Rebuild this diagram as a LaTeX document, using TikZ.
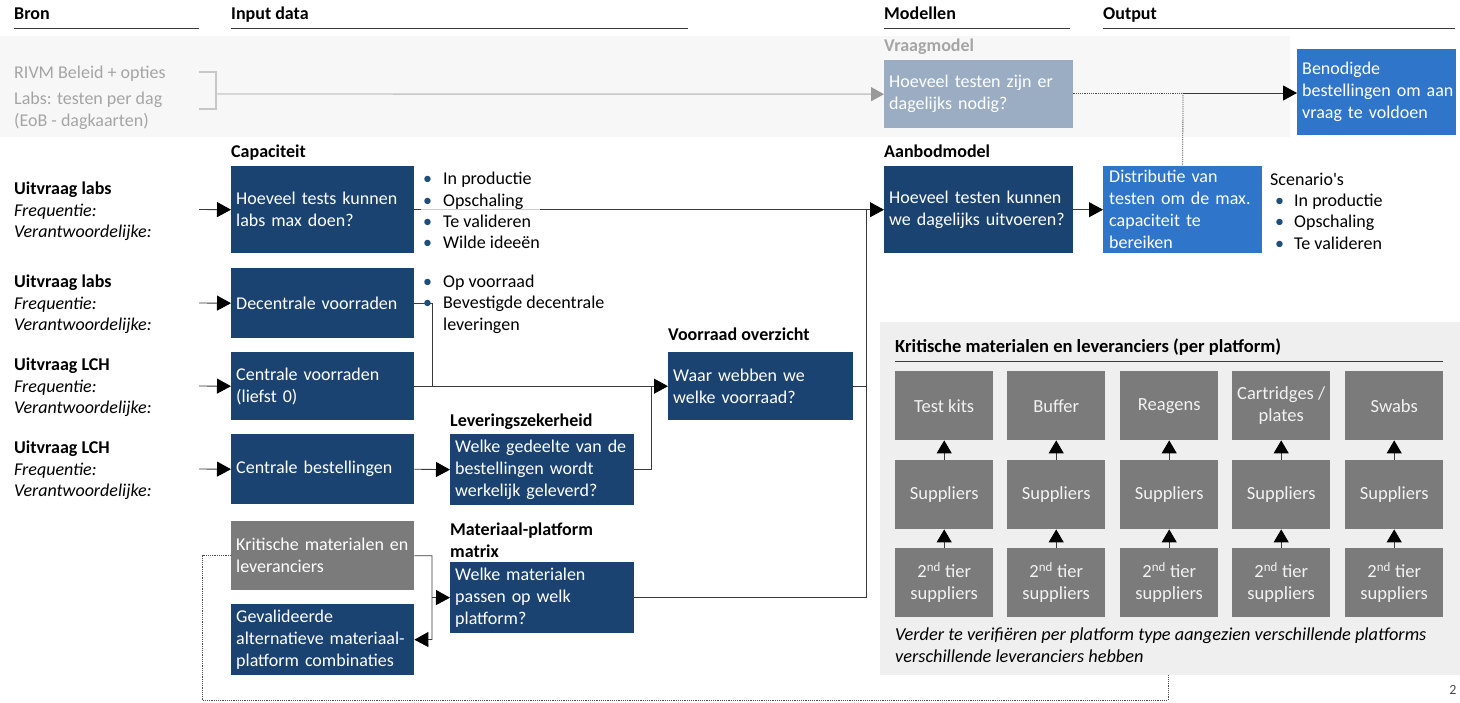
\documentclass[tikz,border=0pt]{standalone}
\usepackage{fontspec}
\setmainfont{Carlito}
\usetikzlibrary{arrows.meta}
\definecolor{navy}{HTML}{1A4372}
\definecolor{vraagc}{HTML}{9AADC3}
\definecolor{bluec}{HTML}{2F75C9}
\definecolor{grc}{HTML}{7B7B7B}
\definecolor{panelc}{HTML}{EFEFEF}
\definecolor{ltxt}{HTML}{A5A5A5}
\definecolor{bulc}{HTML}{1F4E79}
\definecolor{lnc}{HTML}{3A3A3A}
\definecolor{bandc}{HTML}{F7F7F7}
\definecolor{gtx}{HTML}{F2F2F2}
\newcommand\bxf{\fontsize{18}{22}\selectfont}
\newcommand\lblf{\fontsize{18}{21.3}\selectfont}
\newcommand\gfnt{\fontsize{18.5}{22}\selectfont}
\newcommand\mybul{\makebox[22pt][l]{\hspace*{2pt}\textcolor{bulc}{\textbullet}}}
\newcommand\sbul{\hspace*{5pt}\makebox[19pt][l]{\textcolor{bulc}{\textbullet}}}
\begin{document}
\begin{tikzpicture}[x=1pt,y=-1pt,
  bx/.style={rectangle, anchor=north west, inner xsep=5pt, inner ysep=0pt, align=left, text=white, font=\bxf},
  nv/.style={bx, fill=navy},
  lbl/.style={anchor=west, inner sep=0pt, align=left, font=\lblf},
  hdr/.style={anchor=base west, inner sep=0pt, font=\bxf\bfseries},
  hline/.style={draw=lnc, line width=1pt},
  ln/.style={draw=lnc, line width=0.9pt},
  arr/.style={ln, -{Triangle[length=14pt,width=15pt,color=black]}},
  garr/.style={draw=black!22, line width=1.4pt, -{Triangle[length=13pt,width=14pt,color=black!40]}},
  dotl/.style={draw=black!70, line width=0.8pt, dash pattern=on 1.2pt off 1pt},
  gbx/.style={rectangle, anchor=north west, fill=grc, text=gtx, minimum width=98pt, minimum height=69pt, inner sep=2pt, align=center, font=\gfnt},
  uarr/.style={ln, -{Triangle[length=13pt,width=15pt,color=black]}}
]
\useasboundingbox (0,0) rectangle (1460,703);
\fill[white] (0,0) rectangle (1460,703);
\fill[bandc] (0,36) rectangle (1290,137);

% headers
\node[hdr] (hbron) at (14,20) {Bron};
\node[hdr] (hinput) at (231,20) {Input data};
\node[hdr] (hmod) at (884,20) {Modellen};
\node[hdr] (hout) at (1103,20) {Output};
\draw[hline] (14,29) -- (199,29);
\draw[hline] (231,29) -- (688,29);
\draw[hline] (884,29) -- (1070,29);
\draw[hline] (1103,29) -- (1455,29);

% top row (demand)
\node[hdr, font=\bxf, text=ltxt] (rivm) at (14,79) {RIVM Beleid + opties};
\node[hdr, font=\bxf, text=ltxt] (labsd) at (14,105) {Labs: testen per dag};
\node[hdr, font=\bxf, text=ltxt] (eob) at (14,127) {(EoB - dagkaarten)};
\node[hdr, text=ltxt] (vraaglbl) at (884,52) {Vraagmodel};
\node[bx, fill=vraagc, text width=179pt, minimum width=189pt, minimum height=68pt, text=white] (vraag) at (884,60) {Hoeveel testen zijn er\\dagelijks nodig?};
\node[bx, fill=bluec, inner xsep=5pt, text width=149pt, minimum width=159pt, minimum height=86pt] (out) at (1297,49) {Benodigde\\\mbox{bestellingen om aan}\\vraag te voldoen};
\coordinate (b1) at (199,72);
\coordinate (b2) at (199,109);
\coordinate (bj) at (216,94);
\draw[draw=black!22, line width=1.2pt] (b1) -| (bj);
\draw[draw=black!22, line width=1.2pt] (b2) -| (bj);
\draw[garr] (bj) -- (vraag.west);

% supply model
\node[hdr] (aanlbl) at (884,158) {Aanbodmodel};
\node[nv, text width=179pt, minimum width=189pt, minimum height=87pt] (aan) at (884,166) {Hoeveel testen kunnen\\we dagelijks uitvoeren?};
\node[bx, fill=bluec, inner xsep=6pt, text width=147pt, minimum width=159pt, minimum height=87pt] (dist) at (1103,166) {Distributie van\\testen om de max.\\capaciteit te\\bereiken};
\node[lbl] (scen) at (1270,211) {Scenario\textquotesingle s\\\sbul In productie\\\sbul Opschaling\\\sbul Te valideren};
\draw[arr] (aan.east) -- (dist.west);
\coordinate (j3) at (1183,93);
\draw[dotl] (vraag.east |- j3) -- (j3);
\draw[dotl] (j3) -- (dist.north);
\draw[arr] (j3) -- (j3 -| out.west);

% source labels
\node[lbl] (src1) at (14,211.5) {\textbf{Uitvraag labs}\\\textit{Frequentie:}\\\textit{Verantwoordelijke:}};
\node[lbl] (src2) at (14,304.5) {\textbf{Uitvraag labs}\\\textit{Frequentie:}\\\textit{Verantwoordelijke:}};
\node[lbl] (src3) at (14,387.5) {\textbf{Uitvraag LCH}\\\textit{Frequentie:}\\\textit{Verantwoordelijke:}};
\node[lbl] (src4) at (14,470.5) {\textbf{Uitvraag LCH}\\\textit{Frequentie:}\\\textit{Verantwoordelijke:}};
\coordinate (s1) at (199,209.5);
\coordinate (s2) at (199,303);
\coordinate (s3) at (199,386);
\coordinate (s4) at (199,469);

% input boxes
\node[hdr] (caplbl) at (231,158) {Capaciteit};
\node[nv, text width=173pt, minimum width=183pt, minimum height=87pt] (cap) at (231,166) {Hoeveel tests kunnen\\labs max doen?};
\node[nv, text width=173pt, minimum width=183pt, minimum height=70pt] (dec) at (231,268) {Decentrale voorraden};
\node[nv, text width=173pt, minimum width=183pt, minimum height=68pt] (cv) at (231,352) {Centrale voorraden\\(liefst 0)};
\node[nv, text width=173pt, minimum width=183pt, minimum height=70pt] (cb) at (231,434) {Centrale bestellingen};
\node[bx, fill=grc, text width=173pt, minimum width=183pt, minimum height=69pt] (krit) at (231,521) {Kritische materialen en\\leveranciers};
\node[nv, text width=173pt, minimum width=183pt, minimum height=71pt] (gev) at (231,604) {Gevalideerde\\alternatieve materiaal-\\platform combinaties};

\node[hdr] (levlbl) at (450,427) {Leveringszekerheid};
\node[hdr, align=left, anchor=west] (matlbl) at (450,540) {Materiaal-platform\\matrix};
\node[nv, text width=174pt, minimum width=184pt, minimum height=71pt] (lev) at (450,434) {Welke gedeelte van de\\bestellingen wordt\\werkelijk geleverd?};
\node[nv, text width=174pt, minimum width=184pt, minimum height=71pt] (mat) at (450,562) {Welke materialen\\passen op welk\\platform?};
\node[hdr] (voorlbl) at (668,341) {Voorraad overzicht};
\node[nv, text width=175pt, minimum width=185pt, minimum height=68pt] (voor) at (668,352) {Waar webben we\\welke voorraad?};

% connectors
\draw[arr] (s1) -- (cap.west);
\draw[arr] (s2) -- (dec.west);
\draw[arr] (s3) -- (cv.west);
\draw[arr] (s4) -- (cb.west);
\draw[arr] (cap.east) -- (aan.west);
\coordinate (j1) at (866,209.5);
\draw[ln] (voor.east) -| (j1);
\draw[ln] (mat.east) -| (j1);
\coordinate (j4) at (432,386);
\draw[ln] (dec.east) -| (j4);
\coordinate (j2) at (651,386);
\draw[ln] (lev.east) -| (j2);
\draw[arr] (cv.east) -- (voor.west);
\draw[arr] (cb.east) -- (lev.west);
\coordinate (j5) at (432,597.5);
\coordinate (j6) at (432,639.5);
\draw[arr] (krit.east) -| (j6) -- (gev.east);
\draw[arr] (j5) -- (mat.west);

% bullets (over the line)
\node[lbl, fill=white, fill opacity=0.75, text opacity=1, inner xsep=0pt] (capb) at (421,210.5) {\mybul In productie\\\mybul Opschaling\\\mybul Te valideren\\\mybul Wilde ideeën};
\node[lbl] (decb) at (421,304) {\mybul Op voorraad\\\mybul Bevestigde decentrale\\\hspace*{22pt}leveringen};

% right panel
\node[rectangle, anchor=north west, fill=panelc, minimum width=580pt, minimum height=353pt, inner sep=0pt] (panel) at (880,322) {};
\node[hdr, font=\fontsize{18.5}{21}\selectfont\bfseries] (ptitle) at (895,353) {Kritische materialen en leveranciers (per platform)};
\draw[ln, line width=0.8pt] (895,361) -- (1443,361);
\foreach \i/\x/\t in {1/895/Test kits, 2/1007/Buffer, 3/1120/Reagens, 4/1232/{Cartridges /\\plates}, 5/1345/Swabs} {
  \node[gbx] (t\i) at (\x,371) {\t};
  \node[gbx] (m\i) at (\x,460) {Suppliers};
  \node[gbx] (b\i) at (\x,548) {2\textsuperscript{nd} tier\\suppliers};
  \draw[uarr] (m\i.north) -- (t\i.south);
  \draw[uarr] (b\i.north) -- (m\i.south);
}
\node[lbl, font=\fontsize{18.3}{22}\selectfont\itshape] (pnote) at (895,645) {Verder te verifiëren per platform type aangezien verschillende platforms\\verschillende leveranciers hebben};

% dotted feedback line
\coordinate (d1) at (202,700);
\coordinate (d2) at (1168,700);
\draw[dotl] (krit.west) -| (d1) -- (d2) -- (d2 |- panel.south);

\node[anchor=center, inner sep=0pt, font=\fontsize{14}{16}\selectfont, text=black!70] (pnum) at (1453,690) {2};
\end{tikzpicture}
\end{document}
